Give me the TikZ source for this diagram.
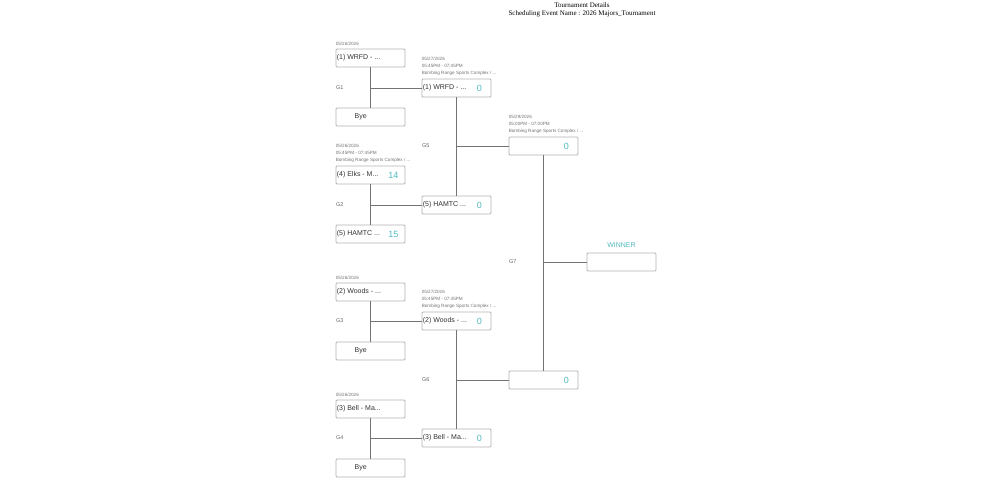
\documentclass[tikz,border=0pt]{standalone}
\usepackage{fontspec}
\setmainfont{Liberation Sans}
\newfontfamily\titlefont{Liberation Serif}
\definecolor{teal1}{RGB}{80,185,190}
\begin{document}
\begin{tikzpicture}
[x=1pt, y=-1pt,
 slot/.style ={rectangle, draw=black!30, thick, minimum width=69pt, minimum height=18pt, rounded corners=1pt, inner sep=1pt},
 team/.style ={font=\fontsize{7}{8}\selectfont, text=black!80, anchor=west, inner sep=1pt},
 score/.style ={font=\fontsize{9}{10}\selectfont, text=teal1},
 info/.style ={font=\fontsize{4.6}{7}\selectfont, text=black!55, anchor=south west, align=left, inner sep=0pt},
 game/.style ={font=\fontsize{5.5}{6}\selectfont, text=black!60, anchor=west, inner sep=0pt},
 line/.style ={draw, black!55, thick}]
\useasboundingbox (0,0) rectangle (995,481);
% heading
\draw (582, 10) node[font=\titlefont\fontsize{7}{8.5}\selectfont, align=center] (title) {Tournament Details\\Scheduling Event Name : 2026 Majors\_Tournament};
% round 1
\draw (370.5, 58) node[slot] (r1a) {};
\draw (370.5, 117) node[slot] (r1b) {};
\draw (370.5, 175) node[slot] (r1c) {};
\draw (370.5, 234) node[slot] (r1d) {};
\draw (370.5, 292) node[slot] (r1e) {};
\draw (370.5, 351) node[slot] (r1f) {};
\draw (370.5, 409) node[slot] (r1g) {};
\draw (370.5, 468) node[slot] (r1h) {};
\node[team] at (r1a.west) {(1) WRFD - ...};
\node[team] at ([xshift=-17pt]r1b.center) {Bye};
\node[team] at (r1c.west) {(4) Elks - M...};
\node[score] at ([xshift=-12pt]r1c.east) {14};
\node[team] at (r1d.west) {(5) HAMTC ...};
\node[score] at ([xshift=-12pt]r1d.east) {15};
\node[team] at (r1e.west) {(2) Woods - ...};
\node[team] at ([xshift=-17pt]r1f.center) {Bye};
\node[team] at (r1g.west) {(3) Bell - Ma...};
\node[team] at ([xshift=-17pt]r1h.center) {Bye};
\node[info] at ([yshift=12pt]r1a.west) {05/26/2026};
\node[info] at ([yshift=12pt]r1c.west) {05/26/2026\\05:45PM - 07:45PM\\Bombing Range Sports Complex / ...};
\node[info] at ([yshift=12pt]r1e.west) {05/26/2026};
\node[info] at ([yshift=12pt]r1g.west) {05/26/2026};
% round 2
\draw (456.5, 88) node[slot] (r2a) {};
\draw (456.5, 205) node[slot] (r2b) {};
\draw (456.5, 321) node[slot] (r2c) {};
\draw (456.5, 438) node[slot] (r2d) {};
\node[team] at (r2a.west) {(1) WRFD - ...};
\node[team] at (r2b.west) {(5) HAMTC ...};
\node[team] at (r2c.west) {(2) Woods - ...};
\node[team] at (r2d.west) {(3) Bell - Ma...};
\foreach \n in {r2a, r2b, r2c, r2d}
  \node[score] at ([xshift=-12pt]\n.east) {0};
\node[info] at ([yshift=12pt]r2a.west) {05/27/2026\\05:45PM - 07:45PM\\Bombing Range Sports Complex / ...};
\node[info] at ([yshift=12pt]r2c.west) {05/27/2026\\05:45PM - 07:45PM\\Bombing Range Sports Complex / ...};
% round 3
\draw (543.5, 146) node[slot] (r3a) {};
\draw (543.5, 380) node[slot] (r3b) {};
\node[score] at ([xshift=-12pt]r3a.east) {0};
\node[score] at ([xshift=-12pt]r3b.east) {0};
\node[info] at ([yshift=12pt]r3a.west) {05/29/2026\\05:00PM - 07:00PM\\Bombing Range Sports Complex / ...};
% winner
\draw (621.5, 262) node[slot] (win) {};
\node[score, font=\fontsize{7}{8}\selectfont, above=2pt] at (win.north) {WINNER};
% games
\node[game] at (336, 88) {G1};
\node[game] at (336, 205) {G2};
\node[game] at (336, 321) {G3};
\node[game] at (336, 438) {G4};
\node[game] at (422, 146) {G5};
\node[game] at (422, 380) {G6};
\node[game] at (509, 262) {G7};
% connectors
\draw[line] (r1a) -- (r1b);
\draw[line] (r1c) -- (r1d);
\draw[line] (r1e) -- (r1f);
\draw[line] (r1g) -- (r1h);
\draw[line] (r2a) -- (r2b);
\draw[line] (r2c) -- (r2d);
\draw[line] (r3a) -- (r3b);
\draw[line] (r1a.south |- r2a) -- (r2a.west);
\draw[line] (r1c.south |- r2b) -- (r2b.west);
\draw[line] (r1e.south |- r2c) -- (r2c.west);
\draw[line] (r1g.south |- r2d) -- (r2d.west);
\draw[line] (r2a.south |- r3a) -- (r3a.west);
\draw[line] (r2c.south |- r3b) -- (r3b.west);
\draw[line] (r3a.south |- win) -- (win.west);
\end{tikzpicture}
\end{document}
